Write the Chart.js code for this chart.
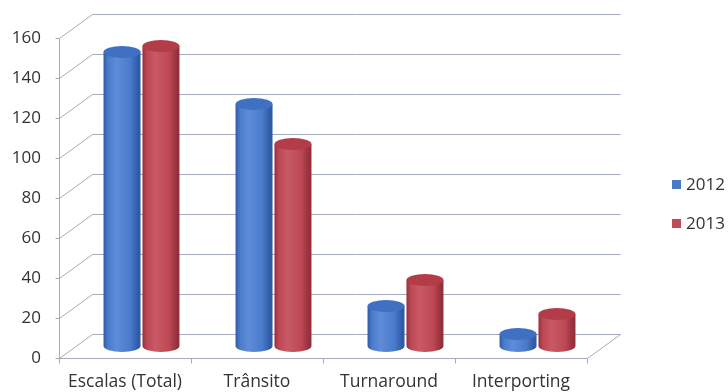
<!DOCTYPE html>
<html>
<head>
<meta charset="utf-8">
<script src="https://cdn.jsdelivr.net/npm/chart.js@4.4.1/dist/chart.umd.min.js"></script>
<style>
  html, body { margin: 0; padding: 0; background: #ffffff; }
  #wrap { width: 728px; height: 392px; }
</style>
</head>
<body>
<div id="wrap"><canvas id="c" width="728" height="392"></canvas></div>
<script>
// Port calls by category, 2012 vs 2013
const categories = ['Escalas (Total)', 'Trânsito', 'Turnaround', 'Interporting'];
const seriesNames = ['2012', '2013'];
const values2012 = [147, 121, 20, 6];
const values2013 = [150, 101, 33, 16];
const yMin = 0;
const yMax = 160;
const yStep = 20;

const palette = {
  '2012': { base: '#4b7bcc', light: '#5f8cd8', dark: '#2f5aa6', top: '#4070c2', key: '#4a7ac6' },
  '2013': { base: '#bd4854', light: '#c85a65', dark: '#94303c', top: '#b23d49', key: '#c04a55' }
};

const GRID = '#a3abba';
const TEXT = '#333333';
const FONT = "'Open Sans'";
const DX = 33;   // depth offset of the back wall (px)
const DY = 24;

function line(ctx, x1, y1, x2, y2) {
  ctx.beginPath();
  ctx.moveTo(x1, y1);
  ctx.lineTo(x2, y2);
  ctx.stroke();
}

const depthFrame = {
  id: 'depthFrame',
  beforeDatasetsDraw(chart) {
    const { ctx, chartArea: a, scales: { y } } = chart;
    ctx.save();
    ctx.strokeStyle = GRID;
    ctx.lineWidth = 1;
    const L = Math.round(a.left) + 0.5;
    const R = Math.round(a.right) + 0.5;
    const B = Math.round(a.bottom) + 0.5;
    for (let v = yMin; v <= yMax; v += yStep) {
      const yf = Math.round(y.getPixelForValue(v)) + 0.5;
      const yb = yf - DY;
      // back wall line
      line(ctx, L + DX, yb, R + DX, yb);
      // side wall diagonal
      line(ctx, L, yf, L + DX, yb);
      // small tick on the front axis
      line(ctx, L - 4, yf, L, yf);
    }
    // front value axis
    line(ctx, L, Math.round(a.top) + 0.5, L, B);
    // front floor edge and right floor edge
    line(ctx, L, B, R, B);
    line(ctx, R, B, R + DX, B - DY);
    // category boundary ticks
    const n = categories.length;
    const step = (a.right - a.left) / n;
    for (let i = 0; i <= n; i++) {
      const xb = Math.round(a.left + i * step) + 0.5;
      line(ctx, xb, B, xb, B + 5);
    }
    ctx.restore();
  },
  beforeDatasetDraw(chart, args) {
    const { ctx } = chart;
    const ds = chart.data.datasets[args.index];
    const col = palette[ds.label];
    ctx.save();
    args.meta.data.forEach(bar => {
      const p = bar.getProps(['x', 'y', 'base', 'width'], true);
      const cx = p.x + DX / 2;
      const rx = p.width / 2;
      const ry = 6;
      const yTop = p.y - DY / 2;
      const yBase = p.base - DY / 2;
      const g = ctx.createLinearGradient(cx - rx, 0, cx + rx, 0);
      g.addColorStop(0, col.dark);
      g.addColorStop(0.12, col.base);
      g.addColorStop(0.35, col.light);
      g.addColorStop(0.72, col.base);
      g.addColorStop(0.94, col.dark);
      g.addColorStop(1, col.dark);
      ctx.fillStyle = g;
      ctx.beginPath();
      ctx.moveTo(cx - rx, yTop);
      ctx.lineTo(cx - rx, yBase);
      ctx.ellipse(cx, yBase, rx, ry, 0, Math.PI, 0, true);
      ctx.lineTo(cx + rx, yTop);
      ctx.closePath();
      ctx.fill();
      ctx.fillStyle = col.top;
      ctx.beginPath();
      ctx.ellipse(cx, yTop, rx, ry, 0, 0, Math.PI * 2);
      ctx.fill();
    });
    ctx.restore();
    return false;
  },
  afterDraw(chart) {
    const { ctx } = chart;
    ctx.save();
    ctx.font = '17px ' + FONT;
    ctx.textBaseline = 'middle';
    const ys = [184, 223];
    chart.data.datasets.forEach((ds, i) => {
      ctx.fillStyle = palette[ds.label].key;
      ctx.fillRect(672, ys[i] - 4, 9, 9);
      ctx.fillStyle = TEXT;
      ctx.fillText(ds.label, 686, ys[i] + 1);
    });
    ctx.restore();
  }
};

new Chart(document.getElementById('c'), {
  type: 'bar',
  data: {
    labels: categories,
    datasets: [
      { label: seriesNames[0], data: values2012, backgroundColor: palette['2012'].key },
      { label: seriesNames[1], data: values2013, backgroundColor: palette['2013'].key }
    ]
  },
  options: {
    responsive: false,
    animation: false,
    devicePixelRatio: 1,
    categoryPercentage: 0.59,
    barPercentage: 0.95,
    layout: { padding: { left: 0, right: 141, top: 38, bottom: 0 } },
    plugins: { legend: { display: false }, tooltip: { enabled: false } },
    scales: {
      x: {
        grid: { display: false, drawTicks: false },
        border: { display: false },
        ticks: { font: { family: FONT, size: 17.5 }, color: TEXT, padding: 14, maxRotation: 0 },
        afterFit(s) { s.height = 34; }
      },
      y: {
        min: yMin,
        max: yMax,
        grid: { display: false, drawTicks: false },
        border: { display: false },
        ticks: { stepSize: yStep, font: { family: FONT, size: 17 }, color: TEXT, padding: 18 },
        afterFit(s) { s.width = 59; }
      }
    }
  },
  plugins: [depthFrame]
});
</script>
</body>
</html>
